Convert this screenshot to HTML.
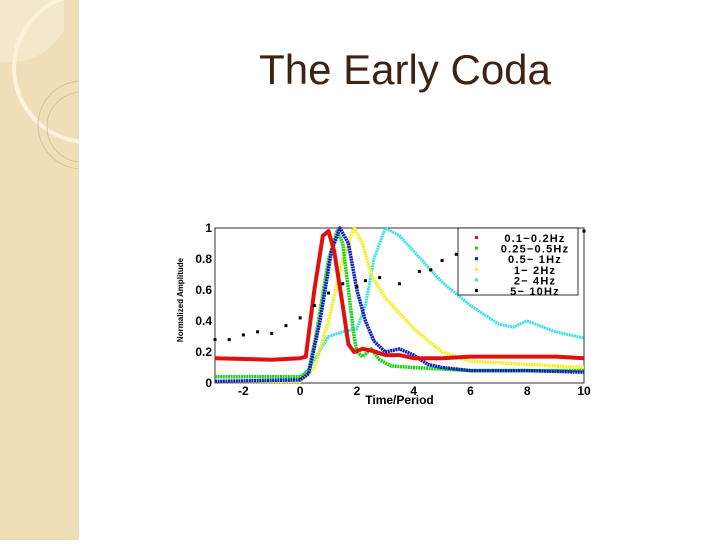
<!DOCTYPE html>
<html><head><meta charset="utf-8"><style>
body{margin:0;width:720px;height:540px;background:#fff;overflow:hidden;position:relative;font-family:"Liberation Sans",sans-serif}
#side{position:absolute;left:0;top:0;width:79px;height:540px;background:#efdfb9}
#title{position:absolute;left:200px;top:46px;width:410px;text-align:center;font-size:42px;color:#3d2314}
</style></head><body>
<div id="side">
<svg width="79" height="540">
<path d="M0 0 H64 V30 A60 60 0 0 1 10 62 H0 Z" fill="#f4e8cc"/>
<circle cx="88" cy="68" r="74" fill="none" stroke="#fbf3dc" stroke-width="4"/>
<circle cx="82" cy="125" r="44" fill="none" stroke="#d6c295" stroke-width="1"/>
<circle cx="82" cy="127" r="35" fill="none" stroke="#d6c295" stroke-width="1"/>
</svg></div>
<div id="title">The Early Coda</div>
<svg id="chart" width="720" height="540" style="position:absolute;left:0;top:0"></svg>
<script>
const xTicks=[-2,0,2,4,6,8,10];
const yTicks=[0,0.2,0.4,0.6,0.8,1];
const yTickLabels=["0","0.2","0.4","0.6","0.8","1"];
const seriesNames=["0.1\u22120.2Hz","0.25\u22120.5Hz","0.5\u2212  1Hz","1\u2212  2Hz","2\u2212  4Hz","5\u2212 10Hz"];
const seriesColors=["#e01010","#20d020","#1020c0","#f0f030","#40e0e0","#000000"];
const redX=[-3,-1,0,0.2,0.5,0.8,1.0,1.2,1.5,1.7,1.9,2.2,2.5,3,3.5,4,5,6,7,8,9,10];
const redY=[0.16,0.15,0.16,0.17,0.6,0.95,0.98,0.85,0.5,0.25,0.2,0.22,0.21,0.18,0.18,0.16,0.16,0.17,0.17,0.17,0.17,0.16];
const greenX=[-3,0,0.3,0.6,1.0,1.3,1.5,1.7,1.9,2.0,2.2,2.5,2.8,3.2,4,5,6,8,10];
const greenY=[0.04,0.04,0.08,0.35,0.8,0.98,0.9,0.6,0.3,0.2,0.17,0.22,0.15,0.11,0.1,0.09,0.08,0.08,0.08];
const blueX=[-3,0,0.3,0.7,1.1,1.4,1.7,2.0,2.3,2.6,3.0,3.5,4,4.5,5,6,8,10];
const blueY=[0.01,0.02,0.06,0.4,0.85,1.0,0.9,0.6,0.4,0.27,0.2,0.22,0.18,0.12,0.1,0.08,0.08,0.07];
const yellowX=[-3,0,0.5,1.0,1.5,1.9,2.2,2.5,3,4,5,6,8,10];
const yellowY=[0.01,0.01,0.1,0.4,0.8,1.0,0.9,0.7,0.55,0.35,0.2,0.14,0.12,0.1];
const cyanX=[-3,0,0.5,1.0,1.5,2.0,2.3,2.6,3.0,3.5,4,5,6,7,7.5,8,9,10];
const cyanY=[0.01,0.01,0.15,0.3,0.33,0.35,0.5,0.8,1.0,0.95,0.85,0.65,0.5,0.38,0.36,0.4,0.33,0.29];
const blackX=[-3,-2.5,-2,-1.5,-1,-0.5,0,0.5,1,1.5,2,2.3,2.8,3.5,4.2,4.6,5,5.5,6,7,8,9,10];
const blackY=[0.28,0.28,0.31,0.33,0.32,0.37,0.42,0.5,0.58,0.64,0.62,0.66,0.68,0.64,0.72,0.73,0.79,0.83,0.86,0.85,0.87,0.9,0.98];
const L=215,R=584,T=228,B=383,xmin=-3,xmax=10;
const sx=v=>L+(v-xmin)/(xmax-xmin)*(R-L);
const sy=v=>B-v*(B-T);
const svg=document.getElementById('chart');
const NS='http://www.w3.org/2000/svg';
function mk(tag,attrs,parent){const e=document.createElementNS(NS,tag);for(const k in attrs)e.setAttribute(k,attrs[k]);(parent||svg).appendChild(e);return e;}
const frame=mk('rect',{x:L,y:T,width:R-L,height:B-T,fill:'#fff',stroke:'#000','stroke-width':0.8});


xTicks.forEach(t=>{
 const tx=mk('text',{x:sx(t),y:B+12,'text-anchor':'middle','font-size':12,'font-weight':'bold'});tx.textContent=t;
 
 
});
yTicks.forEach((t,i)=>{
 const tx=mk('text',{x:L-3,y:sy(t)+4,'text-anchor':'end','font-size':12,'font-weight':'bold'});tx.textContent=yTickLabels[i];
 
 
});
const xl=mk('text',{x:sx(3.5),y:B+21,'text-anchor':'middle','font-size':12,'font-weight':'bold'});xl.textContent='Time/Period';


const yl=mk('text',{x:0,y:0,'text-anchor':'middle','font-size':8,'font-weight':'bold',transform:'translate(183,300) rotate(-90)'});yl.textContent='Normalized Amplitude';


const lines=[[redX,redY],[greenX,greenY],[blueX,blueY],[yellowX,yellowY],[cyanX,cyanY]];
const widths=[4,3.5,3.5,3.5,3];
const order=[4,3,1,2,0];
order.forEach(i=>{
 const [xs,ys]=lines[i];
 const p=mk('polyline',{points:xs.map((x,j)=>sx(x)+','+sy(ys[j])).join(' '),fill:'none',stroke:seriesColors[i],'stroke-width':widths[i],'stroke-dasharray':i==0?'':'2 0.6','stroke-linejoin':'round'});
 
 
});
blackX.forEach((x,j)=>{
 const d=mk('rect',{x:sx(x)-1.5,y:sy(blackY[j])-1.5,width:3,height:3,fill:'#000'});
 
 
});
const lg=mk('g',{});


mk('rect',{x:458,y:228,width:120,height:67,fill:'#fff',stroke:'#000','stroke-width':0.8},lg);
seriesNames.forEach((n,i)=>{
 const y=238+i*10.6;
 const m=mk('rect',{x:475,y:y-2,width:3,height:3,fill:seriesColors[i]},lg);
 
 
 const t=mk('text',{x:535,y:y+4,'font-size':11,'font-weight':'bold','text-anchor':'middle','letter-spacing':'1.2','xml:space':'preserve'},lg);t.textContent=n;
 
 
});
</script>
</body></html>
